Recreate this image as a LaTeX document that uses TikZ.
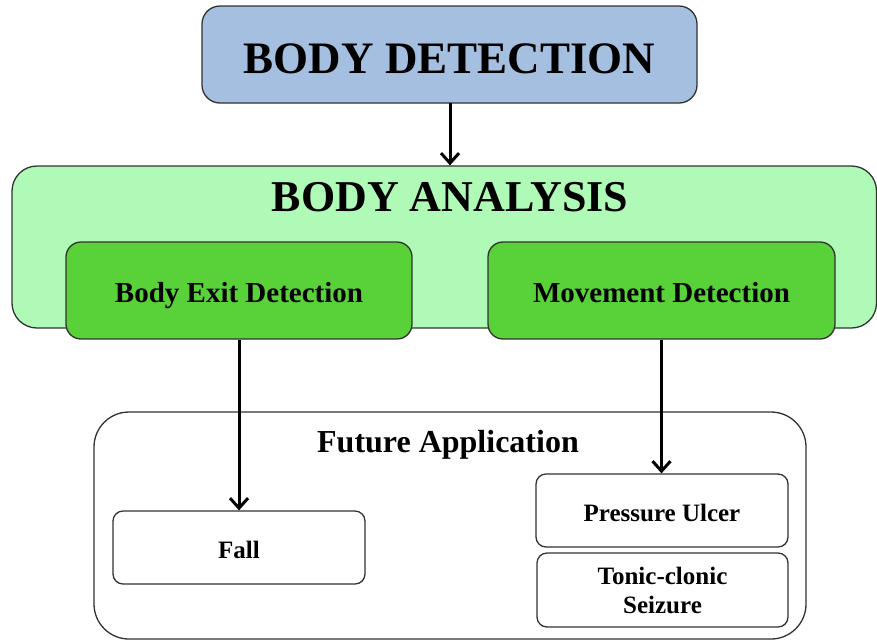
\documentclass[tikz,border=0pt]{standalone}
\usepackage{fontspec}
\setmainfont{Liberation Serif}
\usetikzlibrary{arrows.meta}
\definecolor{detblue}{RGB}{164,191,224}
\definecolor{anagreen}{RGB}{174,250,182}
\definecolor{modgreen}{RGB}{88,210,56}
\definecolor{edge}{RGB}{50,50,50}
\tikzset{
  box/.style={draw=edge, line width=1.3pt, inner sep=0pt, align=center},
  % text box of fixed height and no depth, so the capitals sit where wanted
  capline/.style={text height=#1, text depth=0pt},
  arr/.style={line width=3pt, -{Straight Barb[length=10pt,width=18pt,line width=3pt]}},
}
\newcommand{\fs}[2]{\fontsize{#1}{#2}\selectfont}
\begin{document}
\begin{tikzpicture}[x=1pt,y=-1pt]
\useasboundingbox (0,0) rectangle (877,641);
% top stage
\node[box, capline=37pt, fill=detblue, rounded corners=18pt, minimum width=495pt, minimum height=97pt,
  font=\bfseries\fs{45}{52}] (det) at (449.5,54.5) {BODY DETECTION};
\coordinate (detout) at (450,103);
% analysis stage with its two modules
\node[box, fill=anagreen, rounded corners=25pt, minimum width=864.5pt, minimum height=162pt]
  (ana) at (444.25,247) {};
\node[capline=29pt, font=\bfseries\fs{44}{50}] (anaT) at (450,197) {BODY ANALYSIS};
\node[box, capline=24pt, fill=modgreen, rounded corners=15pt, minimum width=346pt, minimum height=97pt,
  font=\bfseries\fs{29}{34}] (exit) at (239,290.5) {Body Exit Detection};
\node[box, capline=24pt, fill=modgreen, rounded corners=15pt, minimum width=347pt, minimum height=97pt,
  font=\bfseries\fs{29}{34}] (move) at (661.5,290.5) {Movement Detection};
% applications
\node[box, fill=white, rounded corners=35pt, minimum width=712pt, minimum height=227pt]
  (fut) at (450,525.5) {};
\node[capline=21pt, font=\bfseries\fs{32}{37}] (futT) at (448,441.5) {Future Application};
\node[box, capline=21.5pt, fill=white, rounded corners=10pt, minimum width=252pt, minimum height=73pt,
  font=\bfseries\fs{25}{29}] (fall) at (239,547.5) {Fall};
\node[box, capline=21.5pt, fill=white, rounded corners=10pt, minimum width=252pt, minimum height=73pt,
  font=\bfseries\fs{25}{29}] (pu) at (662,510.5) {Pressure Ulcer};
\node[box, fill=white, rounded corners=10pt, minimum width=251pt, minimum height=74pt,
  font=\bfseries\fs{25}{29}] (tc) at (662.5,590) {Tonic-clonic\\ Seizure};
% connectors
\draw[arr] (detout) -- (detout |- ana.north);
\draw[arr] (exit.south) -- (fall.north);
\draw[arr] (move.south) -- (move.south |- pu.north);
\end{tikzpicture}
\end{document}
